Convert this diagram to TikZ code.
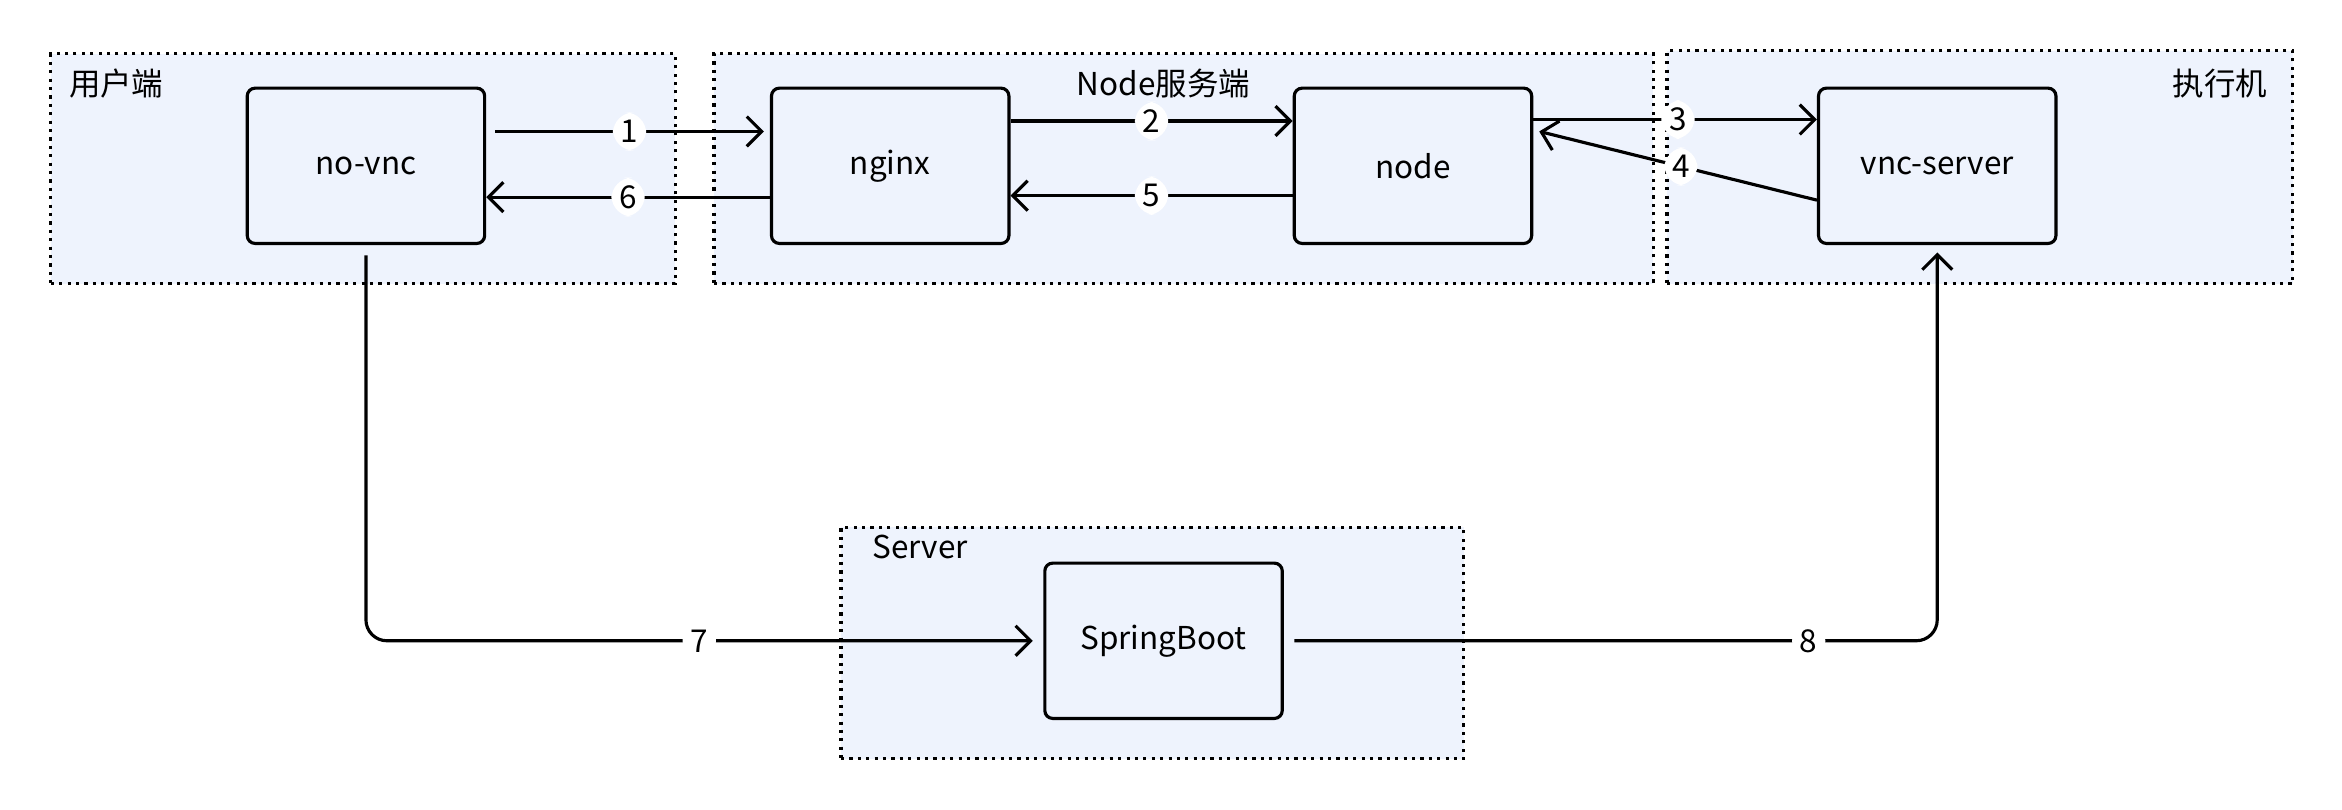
\documentclass[tikz,border=0pt]{standalone}
\usepackage{fontspec}
\setmainfont{Noto Sans CJK SC}
\usetikzlibrary{arrows.meta}
\definecolor{grpfill}{HTML}{EEF3FD}
\tikzset{
  group/.style={draw, dotted, line width=1.2pt, fill=grpfill, anchor=north west, inner sep=0pt},
  box/.style={draw, line width=1.2pt, rounded corners=3pt, fill=grpfill, minimum width=3.18cm, minimum height=2.08cm, font=\large},
  link/.style={line width=1.2pt, -{Straight Barb[length=2mm,width=4mm]}, rounded corners=8pt},
  num/.style={fill=white, inner sep=3pt, font=\large},
  grplabel/.style={font=\large}
}
\begin{document}
\begin{tikzpicture}[x=0.02cm, y=-0.02cm]
  \useasboundingbox (0,0) rectangle (1568,542);
  % groups
  \node[group, minimum width=8.36cm, minimum height=3.08cm] (gUser) at (33,35) {};
  \node[group, minimum width=12.58cm, minimum height=3.08cm] (gNode) at (477,35) {};
  \node[group, minimum width=8.38cm, minimum height=3.12cm] (gExec) at (1115,33) {};
  \node[group, minimum width=8.34cm, minimum height=3.10cm] (gServer) at (562,352) {};
  \node[grplabel, anchor=west] at (40,56) {用户端};
  \node[grplabel] at (779,56) {Node服务端};
  \node[grplabel, anchor=east] at (1524,56) {执行机};
  \node[grplabel, anchor=west] at (578,366) {Server};
  % boxes
  \node[box] (novnc) at (245,111) {no-vnc};
  \node[box] (nginx) at (596,111) {nginx};
  \node[box] (node) at (946,111) {node};
  \node[box] (vnc) at (1297,111) {vnc-server};
  \node[box] (spring) at (779,429) {SpringBoot};
  % connectors
  \draw[link] ([shift={(6,-23)}]novnc.east) -- node[num]{1} ([shift={(-4,-23)}]nginx.west);
  \draw[link] ([yshift=-0.42cm]nginx.west) -- node[num]{6} ([yshift=-0.42cm]novnc.east);
  \draw[link] ([yshift=0.6cm]nginx.east) -- node[num]{2} ([yshift=0.6cm]node.west);
  \draw[link] ([yshift=-0.4cm]node.west) -- node[num]{5} ([yshift=-0.4cm]nginx.east);
  \draw[link] ([yshift=0.62cm]node.east) -- node[num, pos=0.51]{3} ([yshift=0.62cm]vnc.west);
  \draw[link] ([yshift=-0.46cm]vnc.west) -- node[num, pos=0.49]{4} ([shift={(4,-23)}]node.east);
  \draw[link] ([yshift=-0.14cm]novnc.south) |- node[num, pos=0.75]{7} ([xshift=-4]spring.west);
  \draw[link] ([xshift=4]spring.east) -| node[num, pos=0.4]{8} ([yshift=-0.1cm]vnc.south);
\end{tikzpicture}
\end{document}
